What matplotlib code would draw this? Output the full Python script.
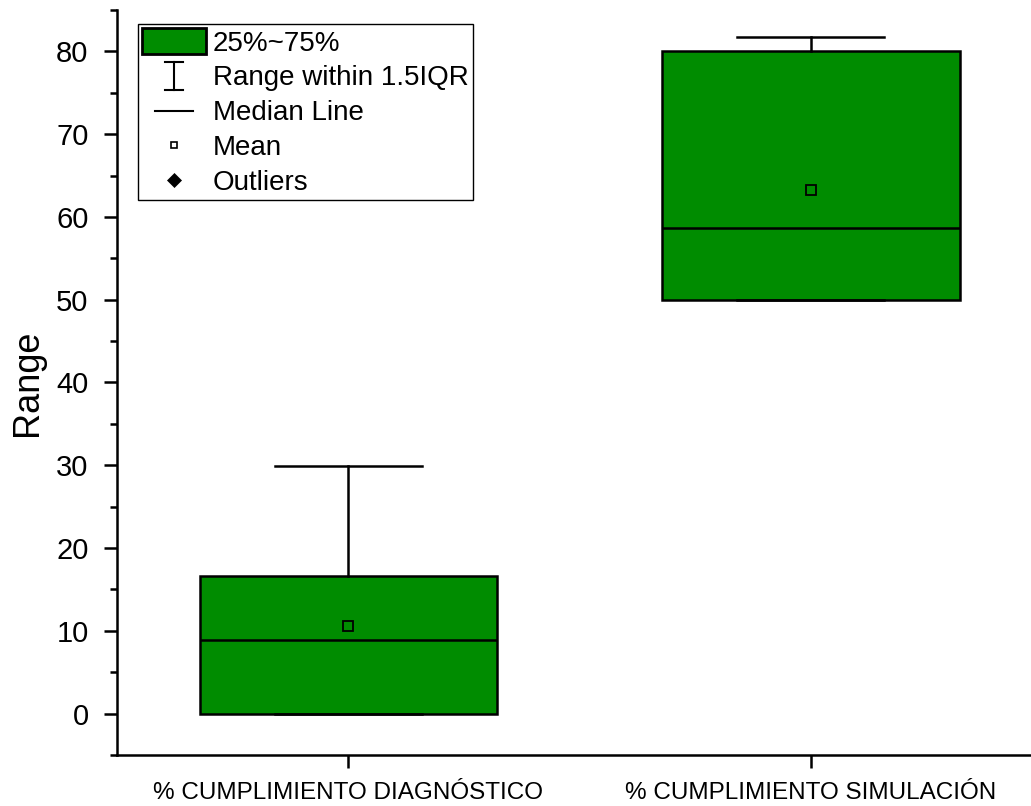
import matplotlib
matplotlib.use("Agg")
import matplotlib.pyplot as plt
from matplotlib.patches import Patch
from matplotlib.lines import Line2D
from matplotlib.legend_handler import HandlerBase

plt.rcParams['font.family'] = ['Liberation Sans', 'DejaVu Sans']

# --------------------
# Box statistics
# --------------------
categories = ["% CUMPLIMIENTO DIAGNÓSTICO", "% CUMPLIMIENTO SIMULACIÓN"]
q1 = [0.0, 50.0]
q3 = [16.6, 80.0]
medians = [8.9, 58.7]
means = [10.6, 63.3]
whisker_low = [0.0, 50.0]
whisker_high = [29.9, 81.7]

GREEN = "#008c00"
LW = 1.8


# --------------------
# Legend handlers for the Origin-like key
# --------------------
class IBeamHandler(HandlerBase):
    def create_artists(self, legend, orig_handle, xdescent, ydescent,
                       width, height, fontsize, trans):
        cx = width / 2 - xdescent
        y0 = -ydescent - 0.05 * height
        y1 = height - ydescent + 0.05 * height
        cap = 0.14 * width
        kw = dict(color="black", lw=1.5, transform=trans)
        return [Line2D([cx, cx], [y0, y1], **kw),
                Line2D([cx - cap, cx + cap], [y0, y0], **kw),
                Line2D([cx - cap, cx + cap], [y1, y1], **kw)]


class ShortLineHandler(HandlerBase):
    def create_artists(self, legend, orig_handle, xdescent, ydescent,
                       width, height, fontsize, trans):
        cy = height / 2 - ydescent
        x0 = -xdescent + 0.2 * width
        x1 = -xdescent + 0.8 * width
        return [Line2D([x0, x1], [cy, cy], color="black", lw=1.5,
                       transform=trans)]


class MarkerHandler(HandlerBase):
    def create_artists(self, legend, orig_handle, xdescent, ydescent,
                       width, height, fontsize, trans):
        cx = width / 2 - xdescent
        cy = height / 2 - ydescent
        ln = Line2D([cx], [cy], linestyle="none", transform=trans,
                    marker=orig_handle.get_marker(),
                    markersize=orig_handle.get_markersize(),
                    markerfacecolor=orig_handle.get_markerfacecolor(),
                    markeredgecolor=orig_handle.get_markeredgecolor(),
                    markeredgewidth=orig_handle.get_markeredgewidth())
        return [ln]


def main():
    stats = []
    for i in range(len(categories)):
        stats.append(dict(label=categories[i], q1=q1[i], q3=q3[i],
                          med=medians[i], mean=means[i],
                          whislo=whisker_low[i], whishi=whisker_high[i],
                          fliers=[]))

    fig = plt.figure(figsize=(10.31, 8.06), dpi=100)
    ax = fig.add_axes([0.1135, 0.0633, 0.8865, 0.9243])

    ax.bxp(stats, positions=[1, 2], widths=0.643, capwidths=0.318,
           patch_artist=True, showmeans=True, showfliers=False,
           boxprops=dict(facecolor=GREEN, edgecolor="black", linewidth=LW),
           medianprops=dict(color="black", linewidth=LW),
           whiskerprops=dict(color="black", linewidth=LW),
           capprops=dict(color="black", linewidth=LW),
           meanprops=dict(marker="s", markersize=6.5, markerfacecolor="none",
                          markeredgecolor="black", markeredgewidth=1.3))

    ax.set_xlim(0.5, 2.476)
    ax.set_ylim(-5, 85)
    ax.set_yticks(range(0, 81, 10))
    ax.set_yticks(range(-5, 86, 10), minor=True)
    ax.set_xticks([1, 2])
    ax.set_xticklabels(categories, fontsize=17.5)
    ax.tick_params(axis="y", labelsize=21, pad=11)
    ax.tick_params(which="major", length=9.5, width=LW, direction="out")
    ax.tick_params(which="minor", length=5, width=LW, direction="out")
    ax.tick_params(axis="x", pad=10)
    ax.set_ylabel("Range", fontsize=26, labelpad=8)

    for side in ["top", "right"]:
        ax.spines[side].set_visible(False)
    for side in ["left", "bottom"]:
        ax.spines[side].set_linewidth(LW)

    # --------------------
    # Legend
    # --------------------
    h_box = Patch(facecolor=GREEN, edgecolor="black", linewidth=2)
    h_range = Line2D([], [])
    h_median = Line2D([], [])
    h_mean = Line2D([], [], marker="s", markersize=5, markerfacecolor="none",
                    markeredgecolor="black", markeredgewidth=1.2)
    h_out = Line2D([], [], marker="D", markersize=7, markerfacecolor="black",
                   markeredgecolor="black", markeredgewidth=0.5)
    leg = ax.legend([h_box, h_range, h_median, h_mean, h_out],
                    ["25%~75%", "Range within 1.5IQR", "Median Line",
                     "Mean", "Outliers"],
                    handler_map={h_range: IBeamHandler(),
                                 h_median: ShortLineHandler(),
                                 h_mean: MarkerHandler(),
                                 h_out: MarkerHandler()},
                    loc="upper left", bbox_to_anchor=(0.023, 0.981),
                    borderaxespad=0, fontsize=20, handlelength=2.3,
                    handleheight=1.05, handletextpad=0.25, labelspacing=0.23,
                    borderpad=0.15, fancybox=False, framealpha=1)
    leg.get_frame().set_edgecolor("black")
    leg.get_frame().set_linewidth(1.0)

    fig.savefig("out.png", dpi=100)


if __name__ == "__main__":
    main()
